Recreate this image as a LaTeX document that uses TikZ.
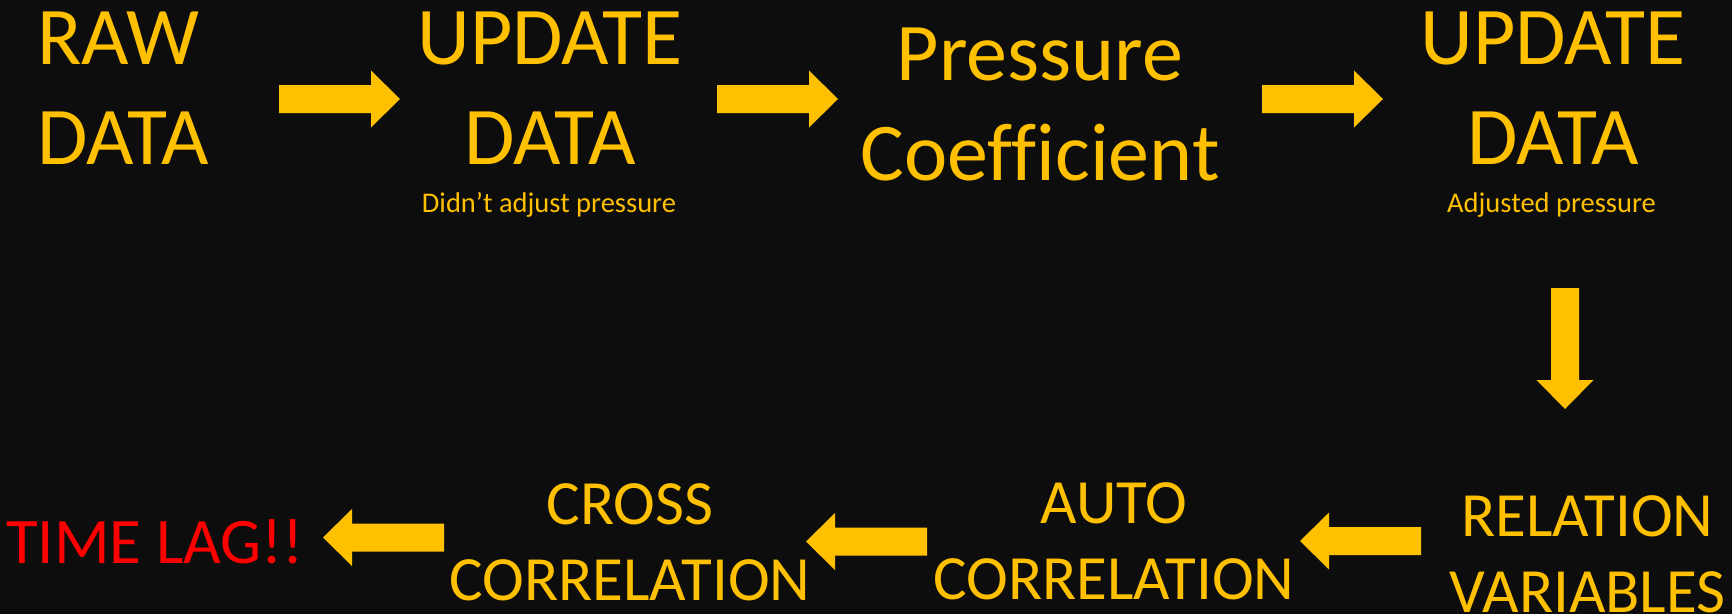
\documentclass[tikz,border=0pt]{standalone}
\usepackage{fontspec}
\setmainfont[Ligatures=NoCommon]{Carlito}
\definecolor{gold}{HTML}{FFC000}
\definecolor{bgdark}{HTML}{0D0D0D}
\definecolor{lagred}{HTML}{FF0000}
\begin{document}
\begin{tikzpicture}[x=1pt,y=-1pt,
  bigtxt/.style={text=gold, inner sep=0pt, align=center, font=\fontsize{82}{100}\selectfont, anchor=base},
  midtxt/.style={text=gold, inner sep=0pt, align=center, font=\fontsize{63}{76}\selectfont, anchor=base},
  smalltxt/.style={text=gold, inner sep=0pt, font=\fontsize{28.5}{34}\selectfont, anchor=base},
  blockarrow/.pic={\fill[gold] (0,-14) -- (92,-14) -- (92,-28.5) -- (121,0) -- (92,28.5) -- (92,14) -- (0,14) -- cycle;}
]
\fill[bgdark] (0,0) rectangle (1732,614);
\useasboundingbox (0,0) rectangle (1732,614);

% text blocks (anchor base = baseline of the last line)
\node[bigtxt, align=left, anchor=base west] (raw) at (37,164) {RAW\\DATA};
\node[bigtxt] (upd1) at (550,164) {UPDATE\\DATA};
\node[smalltxt] (note1) at (549,212) {Didn’t adjust pressure};
\node[bigtxt] (pc) at (1040,180) {Pressure\\Coefficient};
\node[bigtxt] (upd2) at (1553,164) {UPDATE\\DATA};
\node[smalltxt] (note2) at (1551.5,212) {Adjusted pressure};
\node[midtxt] (rel) at (1587.5,612) {RELATION\\VARIABLES};
\node[midtxt] (auto) at (1114,599) {AUTO\\CORRELATION};
\node[midtxt] (cross) at (630,600) {CROSS\\CORRELATION};
\node[midtxt, font=\fontsize{65}{78}\selectfont, text=lagred] (lag) at (155,563) {TIME LAG!!};

% arrow tails
\coordinate (t1) at (279,99);
\coordinate (t2) at (717,99);
\coordinate (t3) at (1262,99);
\coordinate (t4) at (1565,288);
\coordinate (t5) at (1421,541);
\coordinate (t6) at (927,541.5);
\coordinate (t7) at (444,537.5);

\pic at (t1) {blockarrow};
\pic at (t2) {blockarrow};
\pic at (t3) {blockarrow};
\pic[rotate=-90] at (t4) {blockarrow};
\pic[rotate=180] at (t5) {blockarrow};
\pic[rotate=180] at (t6) {blockarrow};
\pic[rotate=180] at (t7) {blockarrow};
\end{tikzpicture}
\end{document}
